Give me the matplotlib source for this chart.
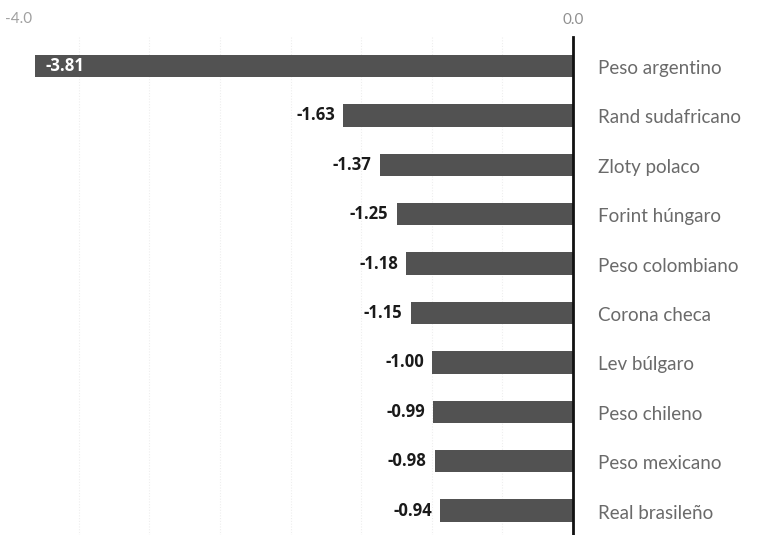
import matplotlib
matplotlib.use("Agg")
import matplotlib.pyplot as plt

currencies = ["Peso argentino", "Rand sudafricano", "Zloty polaco", "Forint húngaro",
              "Peso colombiano", "Corona checa", "Lev búlgaro", "Peso chileno",
              "Peso mexicano", "Real brasileño"]
values = [-3.81, -1.63, -1.37, -1.25, -1.18, -1.15, -1.00, -0.99, -0.98, -0.94]
tick_values = [-4.0, 0.0]
tick_labels = ["-4.0", "0.0"]
grid_values = [-3.5, -3.0, -2.5, -2.0, -1.5, -1.0, -0.5]

W, H = 760, 535
fig = plt.figure(figsize=(W / 100, H / 100), dpi=100)
ax = fig.add_axes([0, 0, 1, 1])
x0_px, scale = 573, 141.2
y0_px, step = 66, 49.4
ax.set_xlim(-x0_px / scale, (W - x0_px) / scale)
ax.set_ylim((H - y0_px) / step, -y0_px / step)
ax.axis("off")

top = (37 - y0_px) / step
bottom = (H - y0_px) / step

for g in grid_values:
    ax.plot([g, g], [top, bottom], color="#eeeeee", lw=0.8, ls=(0, (1, 1.5)), zorder=0)

ypos = list(range(len(values)))
ax.barh(ypos, values, height=0.45, color="#525252", zorder=2)
ax.plot([0, 0], [top, bottom], color="#111111", lw=2, zorder=3)

light = ["Lato", "Open Sans", "DejaVu Sans"]
for i, (c, v) in enumerate(zip(currencies, values)):
    ax.text(25 / scale, i + 0.05, c, ha="left", va="center", fontsize=13.5,
            color="#6a6a6a", family=light, fontweight="normal")
    if i == 0:
        ax.text(v + 10 / scale, i, f"{v:.2f}", ha="left", va="center", fontsize=12,
                color="white", fontweight="bold", family=["Open Sans", "DejaVu Sans"], zorder=4)
    else:
        ax.text(v - 8 / scale, i, f"{v:.2f}", ha="right", va="center", fontsize=12,
                color="#1a1a1a", fontweight="bold", family=["Open Sans", "DejaVu Sans"], zorder=4)

for tv, tl in zip(tick_values, tick_labels):
    if tv == tick_values[0]:
        ax.text(-x0_px / scale + 5 / scale, (19 - y0_px) / step, tl, ha="left", va="center",
                fontsize=11, color="#a0a0a0", family=light, fontweight="normal")
    else:
        ax.text(tv, (20 - y0_px) / step, tl, ha="center", va="center", fontsize=11,
                color="#909090", family=light, fontweight="normal")

fig.savefig("out.png", dpi=100)
